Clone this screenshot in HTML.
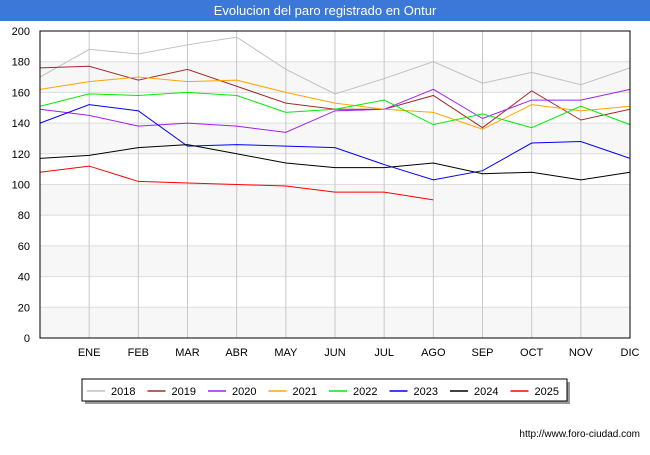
<!DOCTYPE html>
<html><head><meta charset="utf-8"><style>
body{margin:0;width:650px;height:450px;background:#fff;font-family:"Liberation Sans",sans-serif;overflow:hidden}
</style></head><body>
<svg width="650" height="450" xmlns="http://www.w3.org/2000/svg">
<rect x="0" y="0" width="650" height="21" fill="#3b78d8"/>
<text x="325" y="15" font-size="13" fill="#fff" text-anchor="middle">Evolucion del paro registrado en Ontur</text>
<g id="grid"></g><g id="series"></g>
<rect x="40" y="31" width="590" height="307" fill="none" stroke="#000" stroke-width="1"/>
<g id="axes"></g><g id="legend"></g>
<text x="640" y="437" font-size="10" text-anchor="end" fill="#000">http://www.foro-ciudad.com</text>
</svg>
<script>
const months=["","ENE","FEB","MAR","ABR","MAY","JUN","JUL","AGO","SEP","OCT","NOV","DIC"];
const yTicks=[0,20,40,60,80,100,120,140,160,180,200];
const seriesNames=["2018","2019","2020","2021","2022","2023","2024","2025"];
const seriesColors=["#c0c0c0","#a52a2a","#a020f0","#ffa500","#00ee00","#0000ff","#000000","#ff0000"];
const s2018=[170,188,185,191,196,175,159,169,180,166,173,165,176];
const s2019=[176,177,168,175,164,153,149,149,158,137,161,142,149];
const s2020=[149,145,138,140,138,134,148,149,162,143,155,155,162];
const s2021=[162,167,170,167,168,160,153,149,147,136,152,148,151];
const s2022=[151,159,158,160,158,147,149,155,139,146,137,151,139];
const s2023=[140,152,148,125,126,125,124,113,103,109,127,128,117];
const s2024=[117,119,124,126,120,114,111,111,114,107,108,103,108];
const s2025=[108,112,102,101,100,99,95,95,90];
const allSeries=[s2018,s2019,s2020,s2021,s2022,s2023,s2024,s2025];
const NS="http://www.w3.org/2000/svg";
const X0=40,X1=630,Y0=338,Y1=31;
const xs=i=>X0+i*(X1-X0)/12;
const ys=v=>Y0-(v/200)*(Y0-Y1);
function mk(t,a,p){const e=document.createElementNS(NS,t);for(const k in a)e.setAttribute(k,a[k]);p.appendChild(e);return e;}
const grid=document.getElementById('grid'),axes=document.getElementById('axes'),ser=document.getElementById('series'),leg=document.getElementById('legend');
for(let i=0;i<yTicks.length-1;i+=2){const r=mk('rect',{x:X0,y:ys(yTicks[i+1]),width:X1-X0,height:ys(yTicks[i])-ys(yTicks[i+1]),fill:'#f7f7f7'},grid);

}
yTicks.forEach(v=>{const l=mk('line',{x1:X0,x2:X1,y1:ys(v),y2:ys(v),stroke:'#dddddd'},grid);


const t=mk('text',{x:X0-10,y:ys(v)+4,'font-size':11,'text-anchor':'end'},axes);t.textContent=v;

});
months.forEach((m,i)=>{if(i>0){const l=mk('line',{x1:xs(i),x2:xs(i),y1:Y1,y2:Y0,stroke:'#c8c8c8'},grid);

}
if(m){const t=mk('text',{x:xs(i),y:356,'font-size':11,'text-anchor':'middle'},axes);t.textContent=m;

}});
allSeries.forEach((d,k)=>{const p=mk('polyline',{points:d.map((v,i)=>xs(i)+','+ys(v)).join(' '),fill:'none',stroke:seriesColors[k],'stroke-width':1},ser);

});
const sh=mk('rect',{x:85,y:382,width:485,height:22,fill:'#999'},leg);


const bx=mk('rect',{x:82,y:379,width:485,height:22,fill:'#fff',stroke:'#000'},leg);


seriesNames.forEach((n,k)=>{const x=87+k*60.5;
const g=mk('g',{},leg);


mk('line',{x1:x,x2:x+18,y1:391,y2:391,stroke:seriesColors[k],'stroke-width':1.5},g);
const t=mk('text',{x:x+24,y:395,'font-size':11},g);t.textContent=n;});
</script>
</body></html>
